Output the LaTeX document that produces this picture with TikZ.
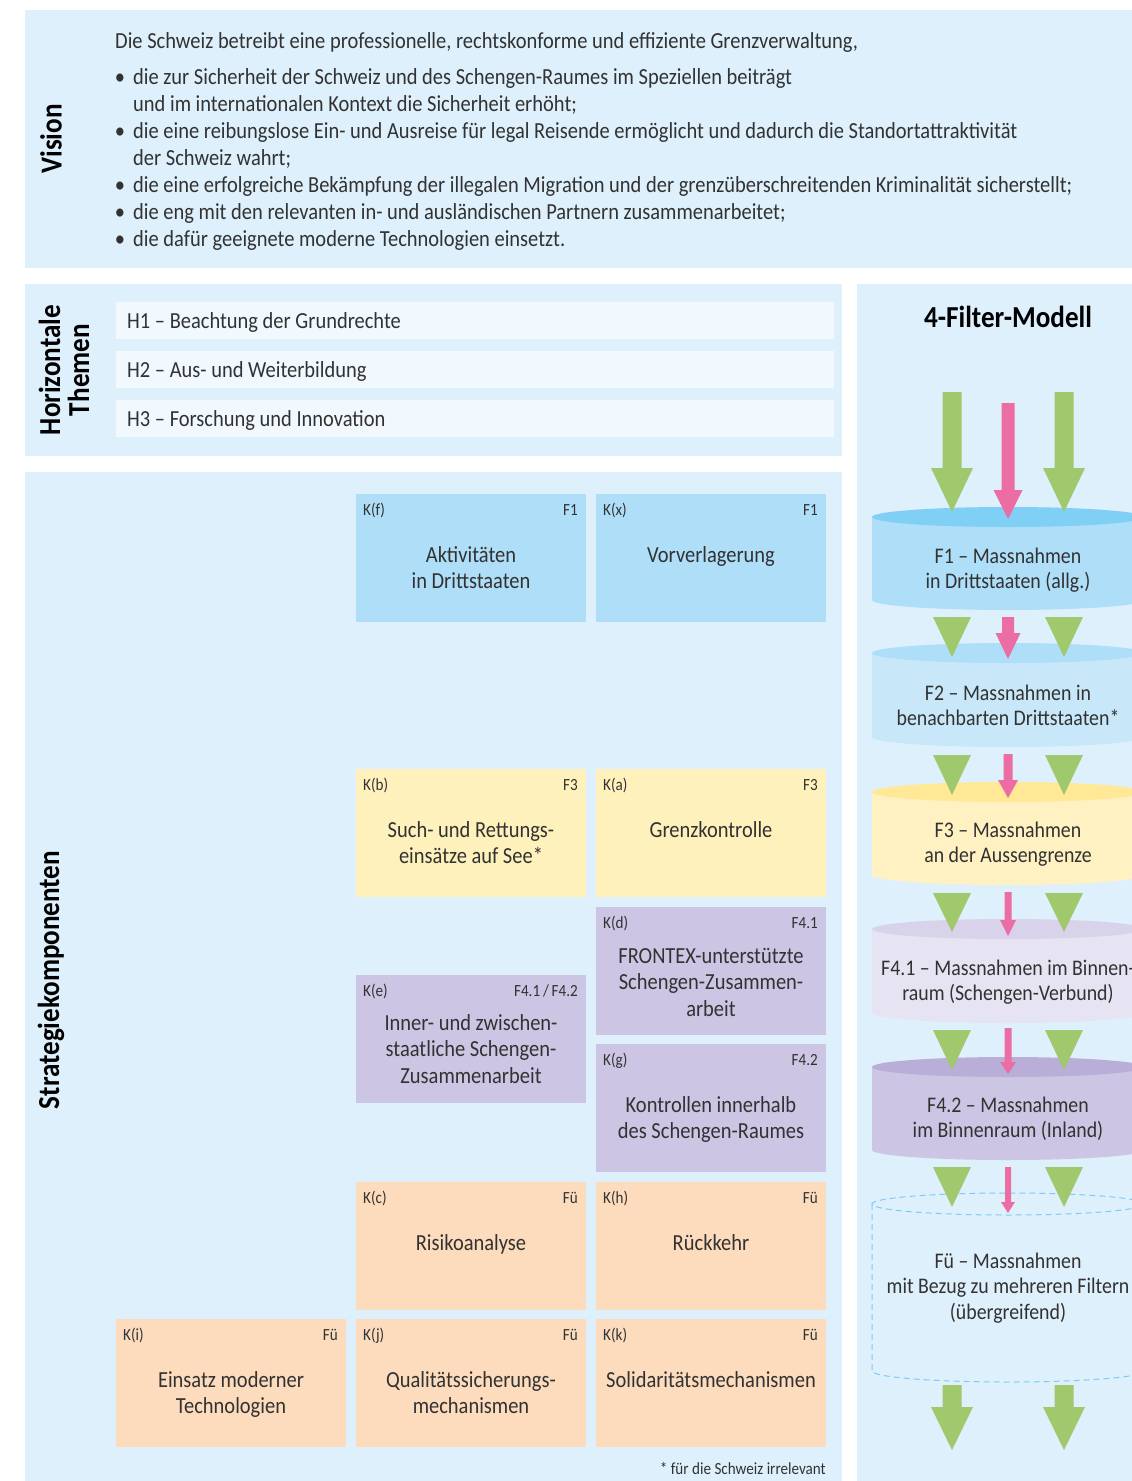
\documentclass[tikz,border=0pt]{standalone}
\usepackage{fontspec}
\setmainfont{Carlito}[FakeStretch=0.89]
\definecolor{panel}{RGB}{222,240,252}
\definecolor{hbar}{RGB}{242,249,254}
\definecolor{kblue}{RGB}{174,222,248}
\definecolor{kyellow}{RGB}{255,241,188}
\definecolor{kpurple}{RGB}{204,197,228}
\definecolor{korange}{RGB}{253,219,189}
\definecolor{agreen}{RGB}{160,200,108}
\definecolor{apink}{RGB}{236,108,164}
\definecolor{txt}{RGB}{50,50,50}
\definecolor{cAtop}{RGB}{128,207,244}
\definecolor{cAbody}{RGB}{174,222,248}
\definecolor{cBtop}{RGB}{174,222,248}
\definecolor{cBbody}{RGB}{200,232,250}
\definecolor{cCtop}{RGB}{255,232,150}
\definecolor{cCbody}{RGB}{255,241,194}
\definecolor{cDtop}{RGB}{216,211,234}
\definecolor{cDbody}{RGB}{230,227,242}
\definecolor{cEtop}{RGB}{184,174,216}
\definecolor{cEbody}{RGB}{204,197,228}
\definecolor{dashblue}{RGB}{125,205,243}
\tikzset{
  kboxst/.style={anchor=north west, minimum width=230pt, minimum height=128pt, inner sep=0pt, draw=none},
  klab/.style={inner sep=0pt, text=txt, font=\fontsize{17}{20}\selectfont},
  ktext/.style={anchor=base, inner sep=0pt, text=txt, font=\fontsize{23}{26.5}\selectfont},
  vis/.style={anchor=base west, inner sep=0pt, text=txt, font=\fontsize{23}{27}\selectfont},
  titlest/.style={inner sep=0pt, text=black, font=\fontsize{30.5}{29}\selectfont\bfseries},
  ctext/.style={anchor=base, inner sep=0pt, text=txt, font=\fontsize{22.3}{25.5}\selectfont},
}
\newcommand{\kbox}[8]{%
  \node[kboxst,fill=#4] (#1) at (#2,#3) {};
  \node[klab,anchor=base west] (#1k) at (#2+7,#3+21) {#5};
  \node[klab,anchor=base east] (#1f) at (#2+222,#3+21) {#6};
  \node[ktext] (#1t) at (#2+115,#3+#7) {\parbox[t]{226pt}{\centering #8}};
}
\newcommand{\cyl}[4]{%
  \fill[#4] (872,#1) rectangle (1144,#2);
  \fill[#4] (1008,#2) ellipse [x radius=136pt, y radius=10pt];
  \fill[#3] (1008,#1) ellipse [x radius=136pt, y radius=10pt];
}
% x, ytop, yhead, ytip, colour, shaft half width, head half width
\newcommand{\flowarrow}[7]{%
  \fill[#5] (#1-#6,#2) -- (#1+#6,#2) -- (#1+#6,#3) -- (#1+#7,#3) -- (#1,#4) -- (#1-#7,#3) -- (#1-#6,#3) -- cycle;
}
\newcommand{\flowtri}[3]{%
  \fill[agreen] (#1-19,#2) -- (#1+19,#2) -- (#1,#3) -- cycle;
}
\begin{document}
\begin{tikzpicture}[x=1pt,y=-1pt]
\useasboundingbox (0,0) rectangle (1132,1481);
\fill[white] (0,0) rectangle (1132,1481);
% panels
\fill[panel] (25,10) rectangle (1132,268);
\fill[panel] (25,284) rectangle (842,456);
\fill[panel] (25,472) rectangle (842,1481);
\fill[panel] (857,284) rectangle (1132,1481);

% Vision
\node[titlest,rotate=90] (vision) at (51,139) {Vision};
\node[vis] (v0) at (115,48) {Die Schweiz betreibt eine professionelle, rechtskonforme und effiziente Grenzverwaltung,};
\foreach \yy/\nm in {84/b1,138/b2,192/b3,219/b4,246/b5}
  \node[vis,anchor=base] (\nm) at (120,\yy) {•};
\node[vis] (v1) at (133,84) {die zur Sicherheit der Schweiz und des Schengen-Raumes im Speziellen beiträgt};
\node[vis] (v1b) at (133,111) {und im internationalen Kontext die Sicherheit erhöht;};
\node[vis] (v2) at (133,138) {die eine reibungslose Ein- und Ausreise für legal Reisende ermöglicht und dadurch die Standortattraktivität};
\node[vis] (v2b) at (133,165) {der Schweiz wahrt;};
\node[vis] (v3) at (133,192) {die eine erfolgreiche Bekämpfung der illegalen Migration und der grenzüberschreitenden Kriminalität sicherstellt;};
\node[vis] (v4) at (133,219) {die eng mit den relevanten in- und ausländischen Partnern zusammenarbeitet;};
\node[vis] (v5) at (133,246) {die dafür geeignete moderne Technologien einsetzt.};

% Horizontale Themen
\node[titlest,rotate=90,align=center] (horiz) at (64,370) {Horizontale\\Themen};
\foreach \yy/\nm/\tx in {302/h1/{H1 – Beachtung der Grundrechte},351/h2/{H2 – Aus- und Weiterbildung},400/h3/{H3 – Forschung und Innovation}}{
  \node[fill=hbar,anchor=north west,minimum width=718pt,minimum height=37pt,inner sep=0pt] (\nm) at (116,\yy) {};
  \node[vis] (\nm t) at (127,\yy+26) {\tx};
}

% Strategiekomponenten
\node[titlest,rotate=90] (strat) at (51,980) {Strategiekomponenten};
\kbox{kf}{356}{494}{kblue}{K(f)}{F1}{68}{Aktivitäten\\in Drittstaaten}
\kbox{kx}{596}{494}{kblue}{K(x)}{F1}{68}{Vorverlagerung}
\kbox{kb}{356}{769}{kyellow}{K(b)}{F3}{68}{Such- und Rettungs-\\einsätze auf See*}
\kbox{ka}{596}{769}{kyellow}{K(a)}{F3}{68}{Grenzkontrolle}
\kbox{kd}{596}{907}{kpurple}{K(d)}{F4.1}{56}{FRONTEX-unterstützte\\Schengen-Zusammen-\\arbeit}
\kbox{ke}{356}{975}{kpurple}{K(e)}{F4.1\,/\,F4.2}{55}{Inner- und zwischen-\\staatliche Schengen-\\Zusammenarbeit}
\kbox{kg}{596}{1044}{kpurple}{K(g)}{F4.2}{68}{Kontrollen innerhalb\\des Schengen-Raumes}
\kbox{kc}{356}{1182}{korange}{K(c)}{Fü}{68}{Risikoanalyse}
\kbox{kh}{596}{1182}{korange}{K(h)}{Fü}{68}{Rückkehr}
\kbox{ki}{116}{1319}{korange}{K(i)}{Fü}{68}{Einsatz moderner\\Technologien}
\kbox{kj}{356}{1319}{korange}{K(j)}{Fü}{68}{Qualitätssicherungs-\\mechanismen}
\kbox{kk}{596}{1319}{korange}{K(k)}{Fü}{68}{Solidaritätsmechanismen}
\node[klab,anchor=base east] (foot) at (826,1474) {* für die Schweiz irrelevant};

% 4-Filter-Modell
\node[titlest,anchor=base] (fm) at (1008,327) {4-Filter-Modell};
\begin{scope}
\clip (857,284) rectangle (1132,1481);
\cyl{517}{600}{cAtop}{cAbody}
\cyl{653}{737}{cBtop}{cBbody}
\cyl{792}{875}{cCtop}{cCbody}
\cyl{929}{1013}{cDtop}{cDbody}
\cyl{1067}{1150}{cEtop}{cEbody}
\draw[dashblue,line width=1pt,dash pattern=on 6pt off 4pt]
  (1008,1204) ellipse [x radius=136pt, y radius=11pt];
\draw[dashblue,line width=1pt,dash pattern=on 6pt off 4pt]
  (872,1204) -- (872,1371) arc[start angle=180, end angle=360, x radius=136pt, y radius=11pt];
% arrows
\flowarrow{952}{392}{468}{512}{agreen}{9.5}{21}
\flowarrow{1064}{392}{468}{512}{agreen}{9.5}{21}
\flowarrow{1008}{403}{490}{519}{apink}{6.5}{14.5}
\flowtri{952}{617}{657}
\flowtri{1064}{617}{657}
\flowarrow{1008}{617}{633}{659}{apink}{6}{12.5}
\flowtri{952}{755}{795}
\flowtri{1064}{755}{795}
\flowarrow{1008}{754}{780}{798}{apink}{4.5}{10}
\flowtri{952}{893}{932}
\flowtri{1064}{893}{932}
\flowarrow{1008}{892}{920}{936}{apink}{3.5}{8}
\flowtri{952}{1030}{1070}
\flowtri{1064}{1030}{1070}
\flowarrow{1008}{1028}{1062}{1074}{apink}{3.5}{8}
\flowtri{952}{1167}{1207}
\flowtri{1064}{1167}{1207}
\flowarrow{1008}{1167}{1202}{1213}{apink}{3}{7}
\flowarrow{952}{1385}{1407}{1450}{agreen}{9.5}{21}
\flowarrow{1064}{1385}{1407}{1450}{agreen}{9.5}{21}
\end{scope}
% cylinder texts
\node[ctext] (f1) at (1008,563) {\parbox[t]{270pt}{\centering F1 – Massnahmen\\in Drittstaaten (allg.)}};
\node[ctext] (f2) at (1008,700) {\parbox[t]{270pt}{\centering F2 – Massnahmen in\\benachbarten Drittstaaten*}};
\node[ctext] (f3) at (1008,837) {\parbox[t]{270pt}{\centering F3 – Massnahmen\\an der Aussengrenze}};
\node[ctext] (f41) at (1008,975) {\parbox[t]{270pt}{\centering F4.1 – Massnahmen im Binnen-\\raum (Schengen-Verbund)}};
\node[ctext] (f42) at (1008,1112) {\parbox[t]{270pt}{\centering F4.2 – Massnahmen\\im Binnenraum (Inland)}};
\node[ctext] (fu) at (1008,1268) {\parbox[t]{270pt}{\centering Fü – Massnahmen\\mit Bezug zu mehreren Filtern\\(übergreifend)}};
\end{tikzpicture}
\end{document}
